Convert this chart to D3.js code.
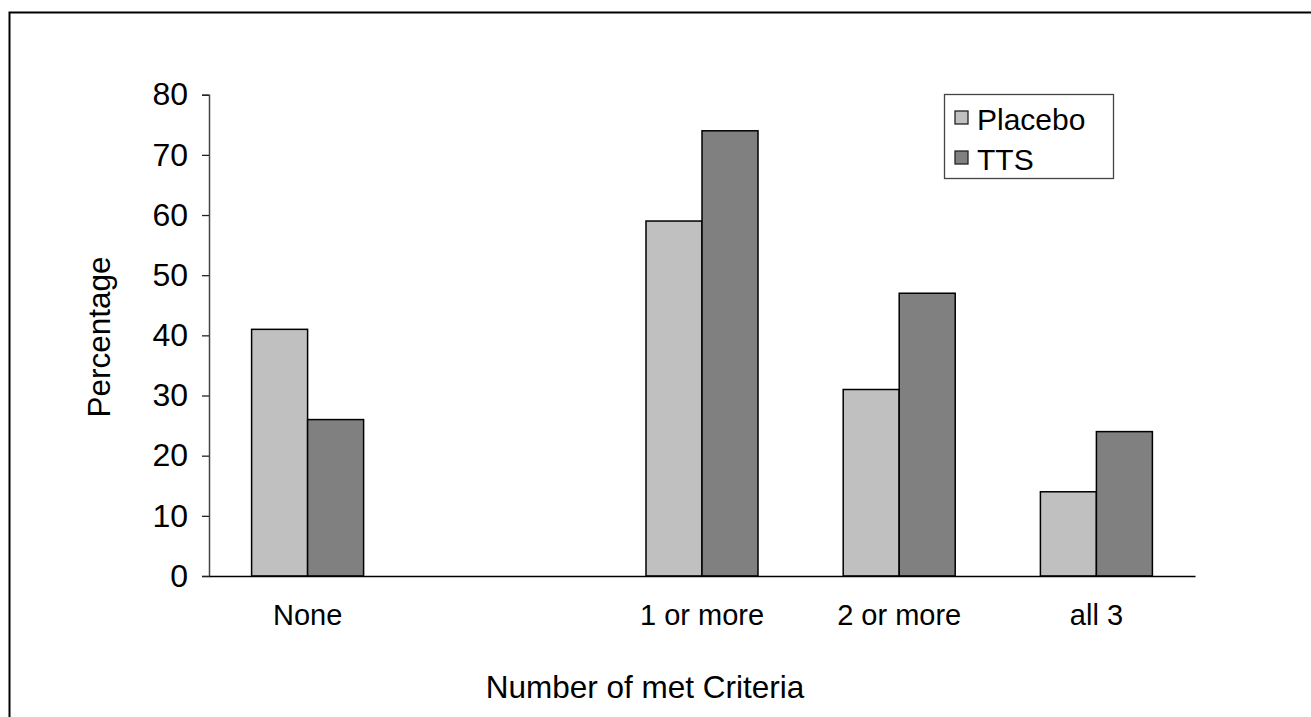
<!DOCTYPE html>
<html>
<head>
<meta charset="utf-8">
<script src="https://cdn.jsdelivr.net/npm/d3@7"></script>
<style>
  html, body { margin: 0; padding: 0; background: #fff; }
  svg { display: block; }
  text { font-family: "Liberation Sans", Arial, sans-serif; fill: #000; }
</style>
</head>
<body>
<svg id="chart" width="1311" height="717"></svg>
<script>
const categories = ["None", "", "1 or more", "2 or more", "all 3"];
const seriesNames = ["Placebo", "TTS"];
const placebo = [41, null, 59, 31, 14];
const tts = [26, null, 74, 47, 24];
const yTicks = [0, 10, 20, 30, 40, 50, 60, 70, 80];
const colors = ["#C0C0C0", "#808080"];

const svg = d3.select("#chart");

// outer frame (right and bottom edges run off the page)
svg.append("rect")
  .attr("x", 9.5).attr("y", 12.5)
  .attr("width", 1400).attr("height", 800)
  .attr("fill", "none").attr("stroke", "#000").attr("stroke-width", 2);

const x0 = 209, x1 = 1195, yTop = 94.7, yBot = 576;
const x = d3.scaleBand().domain(categories.map((c, i) => i)).range([x0, x1]).paddingInner(0).paddingOuter(0);
const y = d3.scaleLinear().domain([0, 80]).range([yBot, yTop]);
const groupFrac = 112 / 197.2;
const xs = d3.scaleBand().domain([0, 1]).range([0, x.bandwidth() * groupFrac]);

// bars
const series = [placebo, tts];
series.forEach((vals, si) => {
  svg.append("g").selectAll("rect")
    .data(vals.map((v, i) => ({ v, i })).filter(d => d.v != null))
    .join("rect")
    .attr("x", d => x(d.i) + x.bandwidth() * (1 - groupFrac) / 2 + xs(si))
    .attr("y", d => y(d.v))
    .attr("width", xs.bandwidth())
    .attr("height", d => yBot - y(d.v))
    .attr("fill", colors[si])
    .attr("stroke", "#000")
    .attr("stroke-width", 1.5);
});

// y axis
const yAxis = d3.axisLeft(y).tickValues(yTicks).tickSize(7).tickPadding(14);
const gy = svg.append("g").attr("transform", `translate(${x0},0)`).call(yAxis);
gy.select(".domain").attr("stroke", "#444").attr("stroke-width", 1.5);
gy.selectAll(".tick line").attr("stroke", "#222").attr("stroke-width", 1.3);
gy.selectAll(".tick text").attr("font-size", 32).attr("font-family", "Liberation Sans, Arial, sans-serif").attr("fill", "#000");

// x axis
const xAxis = d3.axisBottom(x).tickSize(0).tickPadding(0).tickFormat(i => categories[i]);
const gx = svg.append("g").attr("transform", `translate(0,${yBot})`).call(xAxis);
gx.select(".domain").attr("stroke", "#000").attr("stroke-width", 1.5);
gx.selectAll(".tick text")
  .attr("font-size", 29)
  .attr("font-family", "Liberation Sans, Arial, sans-serif")
  .attr("fill", "#000")
  .attr("dy", null)
  .attr("y", 49);

// axis titles
svg.append("text")
  .attr("x", 645).attr("y", 698)
  .attr("text-anchor", "middle").attr("font-size", 31.5)
  .text("Number of met Criteria");

svg.append("text")
  .attr("transform", "translate(110,337) rotate(-90)")
  .attr("text-anchor", "middle").attr("font-size", 31.5)
  .text("Percentage");

// legend
const lg = svg.append("g");
lg.append("rect")
  .attr("x", 944.5).attr("y", 94.5).attr("width", 169).attr("height", 84)
  .attr("fill", "#fff").attr("stroke", "#444").attr("stroke-width", 1.3);
seriesNames.forEach((name, i) => {
  const cy = 118 + i * 40;
  lg.append("rect")
    .attr("x", 955).attr("y", cy - 7).attr("width", 13).attr("height", 13)
    .attr("fill", colors[i]).attr("stroke", "#222").attr("stroke-width", 1.3);
  lg.append("text")
    .attr("x", 977).attr("y", cy + 12)
    .attr("font-size", 30)
    .text(name);
});
</script>
</body>
</html>
